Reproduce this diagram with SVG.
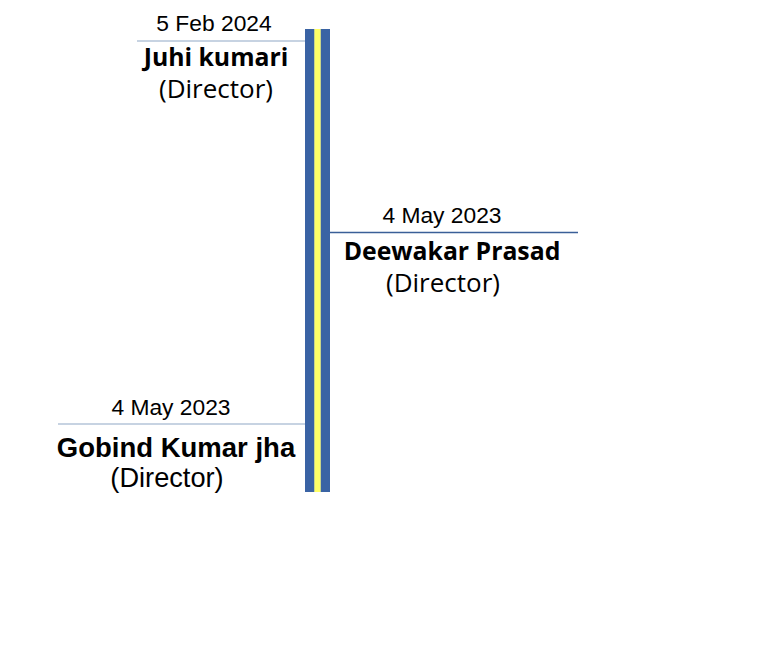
<svg xmlns="http://www.w3.org/2000/svg" width="768" height="666" viewBox="0 0 768 666">
<style>
.date{font-family:"Liberation Sans",Arial,sans-serif;font-size:22.8px;fill:#000;text-anchor:middle}
.nm{font-family:"Open Sans","Noto Sans",sans-serif;font-weight:bold;font-size:24.8px;fill:#000;text-anchor:middle}
.rl{font-family:"Open Sans","Noto Sans",sans-serif;font-size:26px;fill:#000;text-anchor:middle}
.nmA{font-family:"Liberation Sans",Arial,sans-serif;font-weight:bold;font-size:27.5px;fill:#000;text-anchor:middle}
.rlA{font-family:"Liberation Sans",Arial,sans-serif;font-size:27.2px;fill:#000;text-anchor:middle}
</style>
<rect width="768" height="666" fill="#fff"/>
<g id="timeline">
<rect x="305" y="29" width="25" height="463" fill="#3A63A4"/>
<rect x="314" y="29" width="1" height="463" fill="#C8D48A"/>
<rect x="315" y="29" width="5" height="463" fill="#FFFF66"/>
<rect x="320" y="29" width="1" height="463" fill="#C8D48A"/>
</g>
<g id="connectors">
<line x1="137" y1="41" x2="305" y2="41" stroke="#8FA8C6" stroke-width="1.2"/>
<line x1="330" y1="232.5" x2="578" y2="232.5" stroke="#3A5F98" stroke-width="1.5"/>
<line x1="58" y1="424" x2="305" y2="424" stroke="#8FA8C6" stroke-width="1.2"/>
</g>
<g id="juhi">
<text class="date" x="214" y="31">5 Feb 2024</text>
<text class="nm" x="216" y="66">Juhi kumari</text>
<text class="rl" x="216" y="98">(Director)</text>
</g>
<g id="deewakar">
<text class="date" x="442" y="223">4 May 2023</text>
<text class="nm" x="452" y="260">Deewakar Prasad</text>
<text class="rl" x="443" y="292">(Director)</text>
</g>
<g id="gobind">
<text class="date" x="171" y="415">4 May 2023</text>
<text class="nmA" x="176" y="457">Gobind Kumar jha</text>
<text class="rlA" x="167" y="487">(Director)</text>
</g>
</svg>
